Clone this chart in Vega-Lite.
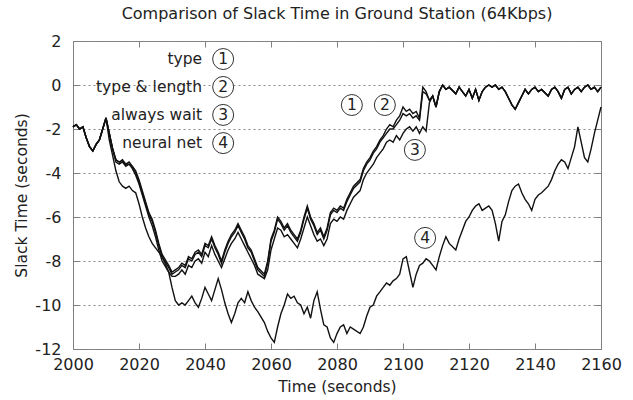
{
  "$schema": "https://vega.github.io/schema/vega-lite/v6.json",
  "width": 528,
  "height": 308,
  "autosize": {"type": "none"},
  "padding": {"left": 73, "top": 41, "right": 32, "bottom": 51},
  "background": "white",
  "title": {"text": "Comparison of Slack Time in Ground Station (64Kbps)", "fontSize": 16, "fontWeight": "normal", "color": "#222", "font": "DejaVu Sans", "offset": 11},
  "config": {"view": {"stroke": "#808080", "strokeWidth": 1}, "font": "DejaVu Sans"},
  "datasets": {
    "slack": [
      {"t":2000,"a":-1.9,"b":-1.9,"c":-1.9,"d":-1.9},
      {"t":2001,"a":-1.8,"b":-1.8,"c":-1.8,"d":-1.8},
      {"t":2002,"a":-2.0,"b":-2.0,"c":-2.0,"d":-2.0},
      {"t":2003,"a":-1.9,"b":-1.9,"c":-1.9,"d":-1.9},
      {"t":2004,"a":-2.4,"b":-2.4,"c":-2.4,"d":-2.4},
      {"t":2005,"a":-2.8,"b":-2.8,"c":-2.8,"d":-2.8},
      {"t":2006,"a":-3.0,"b":-3.0,"c":-3.0,"d":-3.0},
      {"t":2007,"a":-2.7,"b":-2.7,"c":-2.7,"d":-2.7},
      {"t":2008,"a":-2.5,"b":-2.5,"c":-2.5,"d":-2.5},
      {"t":2009,"a":-2.0,"b":-2.0,"c":-2.0,"d":-2.0},
      {"t":2010,"a":-1.5,"b":-1.5,"c":-1.5,"d":-1.5},
      {"t":2011,"a":-2.2,"b":-2.2,"c":-2.2,"d":-2.5},
      {"t":2012,"a":-2.9,"b":-2.9,"c":-2.9,"d":-3.2},
      {"t":2013,"a":-3.4,"b":-3.4,"c":-3.5,"d":-3.9},
      {"t":2014,"a":-3.5,"b":-3.5,"c":-3.6,"d":-4.4},
      {"t":2015,"a":-3.4,"b":-3.5,"c":-3.5,"d":-4.6},
      {"t":2016,"a":-3.6,"b":-3.6,"c":-3.7,"d":-4.7},
      {"t":2017,"a":-3.5,"b":-3.6,"c":-3.6,"d":-4.6},
      {"t":2018,"a":-3.7,"b":-3.7,"c":-3.8,"d":-4.8},
      {"t":2019,"a":-3.9,"b":-4.0,"c":-4.1,"d":-4.9},
      {"t":2020,"a":-4.3,"b":-4.4,"c":-4.5,"d":-5.4},
      {"t":2021,"a":-4.8,"b":-4.9,"c":-5.0,"d":-6.0},
      {"t":2022,"a":-5.3,"b":-5.4,"c":-5.5,"d":-6.5},
      {"t":2023,"a":-5.8,"b":-5.9,"c":-6.0,"d":-6.9},
      {"t":2024,"a":-6.1,"b":-6.2,"c":-6.4,"d":-7.2},
      {"t":2025,"a":-6.6,"b":-6.7,"c":-6.9,"d":-7.4},
      {"t":2026,"a":-7.2,"b":-7.3,"c":-7.5,"d":-7.6},
      {"t":2027,"a":-7.7,"b":-7.8,"c":-8.0,"d":-7.8},
      {"t":2029,"a":-8.2,"b":-8.3,"c":-8.5,"d":-8.5},
      {"t":2030,"a":-8.5,"b":-8.6,"c":-8.7,"d":-9.2},
      {"t":2031,"a":-8.4,"b":-8.5,"c":-8.7,"d":-9.8},
      {"t":2032,"a":-8.3,"b":-8.4,"c":-8.6,"d":-10.0},
      {"t":2033,"a":-8.1,"b":-8.2,"c":-8.4,"d":-9.9},
      {"t":2034,"a":-8.2,"b":-8.3,"c":-8.6,"d":-10.0},
      {"t":2035,"a":-7.8,"b":-7.9,"c":-8.2,"d":-9.8},
      {"t":2036,"a":-7.9,"b":-8.0,"c":-8.3,"d":-9.6},
      {"t":2037,"a":-7.6,"b":-7.7,"c":-8.0,"d":-9.9},
      {"t":2038,"a":-7.5,"b":-7.6,"c":-7.9,"d":-10.1},
      {"t":2039,"a":-7.7,"b":-7.8,"c":-8.1,"d":-9.7},
      {"t":2040,"a":-7.2,"b":-7.3,"c":-7.6,"d":-9.2},
      {"t":2041,"a":-7.3,"b":-7.4,"c":-7.8,"d":-9.5},
      {"t":2042,"a":-6.9,"b":-7.0,"c":-7.3,"d":-9.8},
      {"t":2043,"a":-7.3,"b":-7.4,"c":-7.7,"d":-9.3},
      {"t":2044,"a":-7.6,"b":-7.7,"c":-8.0,"d":-8.8},
      {"t":2045,"a":-8.0,"b":-8.1,"c":-8.3,"d":-9.3},
      {"t":2046,"a":-7.5,"b":-7.6,"c":-7.9,"d":-9.9},
      {"t":2047,"a":-7.1,"b":-7.2,"c":-7.5,"d":-10.4},
      {"t":2048,"a":-6.8,"b":-6.9,"c":-7.2,"d":-10.8},
      {"t":2049,"a":-6.6,"b":-6.7,"c":-7.0,"d":-10.4},
      {"t":2050,"a":-6.3,"b":-6.4,"c":-6.7,"d":-9.9},
      {"t":2051,"a":-6.6,"b":-6.7,"c":-7.0,"d":-9.7},
      {"t":2052,"a":-6.9,"b":-7.0,"c":-7.3,"d":-9.9},
      {"t":2053,"a":-7.3,"b":-7.4,"c":-7.6,"d":-9.4},
      {"t":2054,"a":-7.5,"b":-7.6,"c":-7.9,"d":-9.8},
      {"t":2055,"a":-7.9,"b":-8.0,"c":-8.2,"d":-10.1},
      {"t":2056,"a":-8.3,"b":-8.4,"c":-8.6,"d":-10.3},
      {"t":2058,"a":-8.6,"b":-8.7,"c":-8.8,"d":-10.8},
      {"t":2059,"a":-8.0,"b":-8.1,"c":-8.4,"d":-11.2},
      {"t":2060,"a":-7.0,"b":-7.1,"c":-7.5,"d":-11.5},
      {"t":2061,"a":-6.6,"b":-6.7,"c":-7.0,"d":-11.7},
      {"t":2062,"a":-6.0,"b":-6.1,"c":-6.5,"d":-11.0},
      {"t":2063,"a":-6.2,"b":-6.3,"c":-6.6,"d":-10.4},
      {"t":2064,"a":-6.5,"b":-6.6,"c":-6.9,"d":-10.0},
      {"t":2065,"a":-6.3,"b":-6.4,"c":-6.8,"d":-9.5},
      {"t":2066,"a":-6.6,"b":-6.7,"c":-7.0,"d":-9.7},
      {"t":2067,"a":-6.8,"b":-6.9,"c":-7.2,"d":-9.6},
      {"t":2068,"a":-7.0,"b":-7.1,"c":-7.4,"d":-9.9},
      {"t":2069,"a":-6.6,"b":-6.7,"c":-7.0,"d":-10.0},
      {"t":2070,"a":-6.0,"b":-6.1,"c":-6.5,"d":-10.4},
      {"t":2071,"a":-5.5,"b":-5.6,"c":-6.0,"d":-10.1},
      {"t":2072,"a":-6.0,"b":-6.1,"c":-6.4,"d":-10.6},
      {"t":2073,"a":-6.3,"b":-6.4,"c":-6.8,"d":-9.8},
      {"t":2074,"a":-6.7,"b":-6.8,"c":-7.1,"d":-9.4},
      {"t":2075,"a":-6.5,"b":-6.6,"c":-7.0,"d":-10.2},
      {"t":2076,"a":-6.9,"b":-7.0,"c":-7.3,"d":-10.9},
      {"t":2077,"a":-6.5,"b":-6.6,"c":-7.0,"d":-11.0},
      {"t":2078,"a":-5.8,"b":-5.9,"c":-6.3,"d":-11.5},
      {"t":2079,"a":-5.6,"b":-5.7,"c":-6.1,"d":-11.7},
      {"t":2080,"a":-5.7,"b":-5.8,"c":-6.2,"d":-11.3},
      {"t":2081,"a":-5.5,"b":-5.6,"c":-6.0,"d":-11.0},
      {"t":2082,"a":-5.6,"b":-5.7,"c":-6.1,"d":-10.9},
      {"t":2083,"a":-5.2,"b":-5.3,"c":-5.7,"d":-11.3},
      {"t":2084,"a":-4.9,"b":-5.0,"c":-5.4,"d":-11.0},
      {"t":2085,"a":-4.6,"b":-4.7,"c":-5.1,"d":-11.1},
      {"t":2087,"a":-4.3,"b":-4.4,"c":-4.8,"d":-11.3},
      {"t":2088,"a":-3.8,"b":-3.9,"c":-4.3,"d":-11.0},
      {"t":2089,"a":-3.5,"b":-3.6,"c":-4.0,"d":-10.5},
      {"t":2090,"a":-3.3,"b":-3.4,"c":-3.8,"d":-10.1},
      {"t":2091,"a":-3.0,"b":-3.1,"c":-3.6,"d":-10.0},
      {"t":2092,"a":-2.8,"b":-2.9,"c":-3.3,"d":-9.6},
      {"t":2093,"a":-2.5,"b":-2.6,"c":-3.1,"d":-9.4},
      {"t":2094,"a":-2.3,"b":-2.4,"c":-2.9,"d":-9.2},
      {"t":2095,"a":-2.0,"b":-2.2,"c":-2.6,"d":-9.0},
      {"t":2096,"a":-1.8,"b":-2.0,"c":-2.5,"d":-9.1},
      {"t":2097,"a":-1.9,"b":-2.0,"c":-2.6,"d":-8.9},
      {"t":2098,"a":-1.6,"b":-1.8,"c":-2.3,"d":-8.8},
      {"t":2099,"a":-1.4,"b":-1.6,"c":-2.5,"d":-8.6},
      {"t":2100,"a":-1.0,"b":-1.3,"c":-2.2,"d":-7.9},
      {"t":2101,"a":-1.2,"b":-1.4,"c":-2.0,"d":-7.8},
      {"t":2102,"a":-1.1,"b":-1.3,"c":-1.9,"d":-8.5},
      {"t":2103,"a":-1.3,"b":-1.5,"c":-2.1,"d":-9.2},
      {"t":2104,"a":-1.2,"b":-1.4,"c":-1.9,"d":-8.6},
      {"t":2105,"a":-1.5,"b":-1.6,"c":-2.2,"d":-8.2},
      {"t":2106,"a":-0.1,"b":-0.3,"c":-1.9,"d":-8.1},
      {"t":2107,"a":-0.3,"b":-0.4,"c":-2.1,"d":-7.9},
      {"t":2108,"a":-0.7,"b":-0.7,"c":-0.8,"d":-8.0},
      {"t":2109,"a":-0.5,"b":-0.5,"c":-0.5,"d":-8.2},
      {"t":2110,"a":-1.0,"b":-1.0,"c":-1.0,"d":-8.4},
      {"t":2111,"a":-0.3,"b":-0.3,"c":-0.3,"d":-7.8},
      {"t":2112,"a":0.0,"b":0.0,"c":0.0,"d":-7.3},
      {"t":2113,"a":-0.2,"b":-0.2,"c":-0.2,"d":-6.9},
      {"t":2114,"a":-0.1,"b":-0.1,"c":-0.1,"d":-7.2},
      {"t":2116,"a":-0.4,"b":-0.4,"c":-0.4,"d":-7.5},
      {"t":2117,"a":-0.1,"b":-0.1,"c":-0.1,"d":-7.0},
      {"t":2118,"a":-0.3,"b":-0.3,"c":-0.3,"d":-6.6},
      {"t":2119,"a":-0.5,"b":-0.5,"c":-0.5,"d":-6.2},
      {"t":2120,"a":-0.2,"b":-0.2,"c":-0.2,"d":-6.0},
      {"t":2121,"a":-0.6,"b":-0.6,"c":-0.6,"d":-5.7},
      {"t":2122,"a":-0.2,"b":-0.2,"c":-0.2,"d":-5.5},
      {"t":2123,"a":-0.7,"b":-0.7,"c":-0.7,"d":-5.4},
      {"t":2124,"a":-0.3,"b":-0.3,"c":-0.3,"d":-5.7},
      {"t":2125,"a":-0.1,"b":-0.1,"c":-0.1,"d":-5.6},
      {"t":2126,"a":0.0,"b":0.0,"c":0.0,"d":-5.5},
      {"t":2127,"a":-0.1,"b":-0.1,"c":-0.1,"d":-5.7},
      {"t":2128,"a":0.0,"b":0.0,"c":0.0,"d":-6.3},
      {"t":2129,"a":-0.2,"b":-0.2,"c":-0.2,"d":-7.1},
      {"t":2130,"a":-0.1,"b":-0.1,"c":-0.1,"d":-6.2},
      {"t":2131,"a":-0.3,"b":-0.3,"c":-0.3,"d":-5.9},
      {"t":2132,"a":-0.6,"b":-0.6,"c":-0.6,"d":-5.3},
      {"t":2133,"a":-0.9,"b":-0.9,"c":-0.9,"d":-4.8},
      {"t":2134,"a":-1.1,"b":-1.1,"c":-1.1,"d":-4.6},
      {"t":2135,"a":-0.8,"b":-0.8,"c":-0.8,"d":-4.5},
      {"t":2136,"a":-0.5,"b":-0.5,"c":-0.5,"d":-4.9},
      {"t":2137,"a":-0.2,"b":-0.2,"c":-0.2,"d":-5.2},
      {"t":2138,"a":-0.4,"b":-0.4,"c":-0.4,"d":-5.4},
      {"t":2139,"a":-0.2,"b":-0.2,"c":-0.2,"d":-5.7},
      {"t":2140,"a":-0.1,"b":-0.1,"c":-0.1,"d":-5.2},
      {"t":2141,"a":-0.3,"b":-0.3,"c":-0.3,"d":-5.0},
      {"t":2142,"a":-0.2,"b":-0.2,"c":-0.2,"d":-4.9},
      {"t":2144,"a":-0.5,"b":-0.5,"c":-0.5,"d":-4.6},
      {"t":2145,"a":-0.2,"b":-0.2,"c":-0.2,"d":-4.3},
      {"t":2146,"a":-0.1,"b":-0.1,"c":-0.1,"d":-3.9},
      {"t":2147,"a":-0.3,"b":-0.3,"c":-0.3,"d":-3.6},
      {"t":2148,"a":-0.6,"b":-0.6,"c":-0.6,"d":-3.4},
      {"t":2149,"a":-0.2,"b":-0.2,"c":-0.2,"d":-3.5},
      {"t":2150,"a":-0.1,"b":-0.1,"c":-0.1,"d":-3.8},
      {"t":2151,"a":-0.4,"b":-0.4,"c":-0.4,"d":-3.3},
      {"t":2152,"a":-0.2,"b":-0.2,"c":-0.2,"d":-2.8},
      {"t":2153,"a":-0.1,"b":-0.1,"c":-0.1,"d":-1.9},
      {"t":2154,"a":-0.3,"b":-0.3,"c":-0.3,"d":-2.6},
      {"t":2155,"a":-0.1,"b":-0.1,"c":-0.1,"d":-3.3},
      {"t":2156,"a":0.0,"b":0.0,"c":0.0,"d":-3.5},
      {"t":2157,"a":-0.2,"b":-0.2,"c":-0.2,"d":-2.9},
      {"t":2158,"a":-0.1,"b":-0.1,"c":-0.1,"d":-2.2},
      {"t":2159,"a":-0.3,"b":-0.3,"c":-0.3,"d":-1.6},
      {"t":2160,"a":-0.1,"b":-0.1,"c":-0.1,"d":-1.0}
    ],
    "keys": [
      {"lx":2039.1,"cx":2045.5,"ly":1.18,"lab":"type","num":"1"},
      {"lx":2039.1,"cx":2045.5,"ly":-0.09,"lab":"type & length","num":"2"},
      {"lx":2039.1,"cx":2045.5,"ly":-1.36,"lab":"always wait","num":"3"},
      {"lx":2039.1,"cx":2045.5,"ly":-2.64,"lab":"neural net","num":"4"}
    ],
    "marks": [
      {"cx":2084.5,"cy":-0.91,"num":"1"},
      {"cx":2094.5,"cy":-0.91,"num":"2"},
      {"cx":2103.6,"cy":-2.95,"num":"3"},
      {"cx":2106.7,"cy":-6.95,"num":"4"}
    ]
  },
  "layer": [
    {
      "data": {"name": "slack"},
      "transform": [{"fold": ["a", "b", "c", "d"], "as": ["series", "v"]}],
      "mark": {"type": "line", "color": "#111", "strokeWidth": 1.4},
      "encoding": {
        "x": {"field": "t", "type": "quantitative", "scale": {"domain": [2000, 2160], "nice": false, "zero": false},
          "axis": {"orient": "bottom", "values": [2000,2020,2040,2060,2080,2100,2120,2140,2160], "format": "d", "labelFlush": false, "labelOverlap": false, "title": "Time (seconds)", "titleFontSize": 15.5, "titleFontWeight": "normal", "titleColor": "#222", "titlePadding": 7, "labelFontSize": 16, "labelColor": "#222", "labelPadding": 13, "tickSize": -6, "tickColor": "#808080", "domain": false, "grid": false}},
        "y": {"field": "v", "type": "quantitative", "scale": {"domain": [-12, 2], "nice": false, "zero": false},
          "axis": {"orient": "left", "values": [-12,-10,-8,-6,-4,-2,0,2], "labelExpr": "'' + datum.value", "labelFlush": false, "labelOverlap": false, "title": "Slack Time (seconds)", "titleFontSize": 15.5, "titleFontWeight": "normal", "titleColor": "#222", "titlePadding": 5, "labelFontSize": 16, "labelColor": "#222", "labelPadding": 18, "tickSize": -6, "tickColor": "#808080", "domain": false, "grid": true, "gridDash": [2, 3], "gridColor": "#888", "gridWidth": 1}},
        "detail": {"field": "series"}
      }
    },
    {
      "data": {"name": "keys"},
      "mark": {"type": "point", "shape": "circle", "size": 440, "fill": "white", "stroke": "#333", "strokeWidth": 1, "opacity": 1},
      "encoding": {
        "x": {"field": "cx", "type": "quantitative",
          "axis": {"orient": "top", "values": [2000,2020,2040,2060,2080,2100,2120,2140,2160], "labels": false, "title": null, "tickSize": -6, "tickColor": "#808080", "domain": false, "grid": false}},
        "y": {"field": "ly", "type": "quantitative",
          "axis": {"orient": "right", "values": [-12,-10,-8,-6,-4,-2,0,2], "labels": false, "title": null, "tickSize": -6, "tickColor": "#808080", "domain": false, "grid": false}}
      }
    },
    {
      "data": {"name": "marks"},
      "mark": {"type": "point", "shape": "circle", "size": 440, "fill": "white", "stroke": "#333", "strokeWidth": 1, "opacity": 1},
      "encoding": {
        "x": {"field": "cx", "type": "quantitative", "axis": null},
        "y": {"field": "cy", "type": "quantitative", "axis": null}
      }
    },
    {
      "data": {"name": "keys"},
      "mark": {"type": "text", "fontSize": 15.5, "color": "#222", "align": "center", "baseline": "middle"},
      "encoding": {
        "x": {"field": "cx", "type": "quantitative", "axis": null},
        "y": {"field": "ly", "type": "quantitative", "axis": null},
        "text": {"field": "num"}
      }
    },
    {
      "data": {"name": "marks"},
      "mark": {"type": "text", "fontSize": 15.5, "color": "#222", "align": "center", "baseline": "middle"},
      "encoding": {
        "x": {"field": "cx", "type": "quantitative", "axis": null},
        "y": {"field": "cy", "type": "quantitative", "axis": null},
        "text": {"field": "num"}
      }
    },
    {
      "data": {"name": "keys"},
      "mark": {"type": "text", "fontSize": 15.5, "color": "#222", "align": "right", "baseline": "middle"},
      "encoding": {
        "x": {"field": "lx", "type": "quantitative", "axis": null},
        "y": {"field": "ly", "type": "quantitative", "axis": null},
        "text": {"field": "lab"}
      }
    }
  ],
  "resolve": {"axis": {"x": "independent", "y": "independent"}}
}
